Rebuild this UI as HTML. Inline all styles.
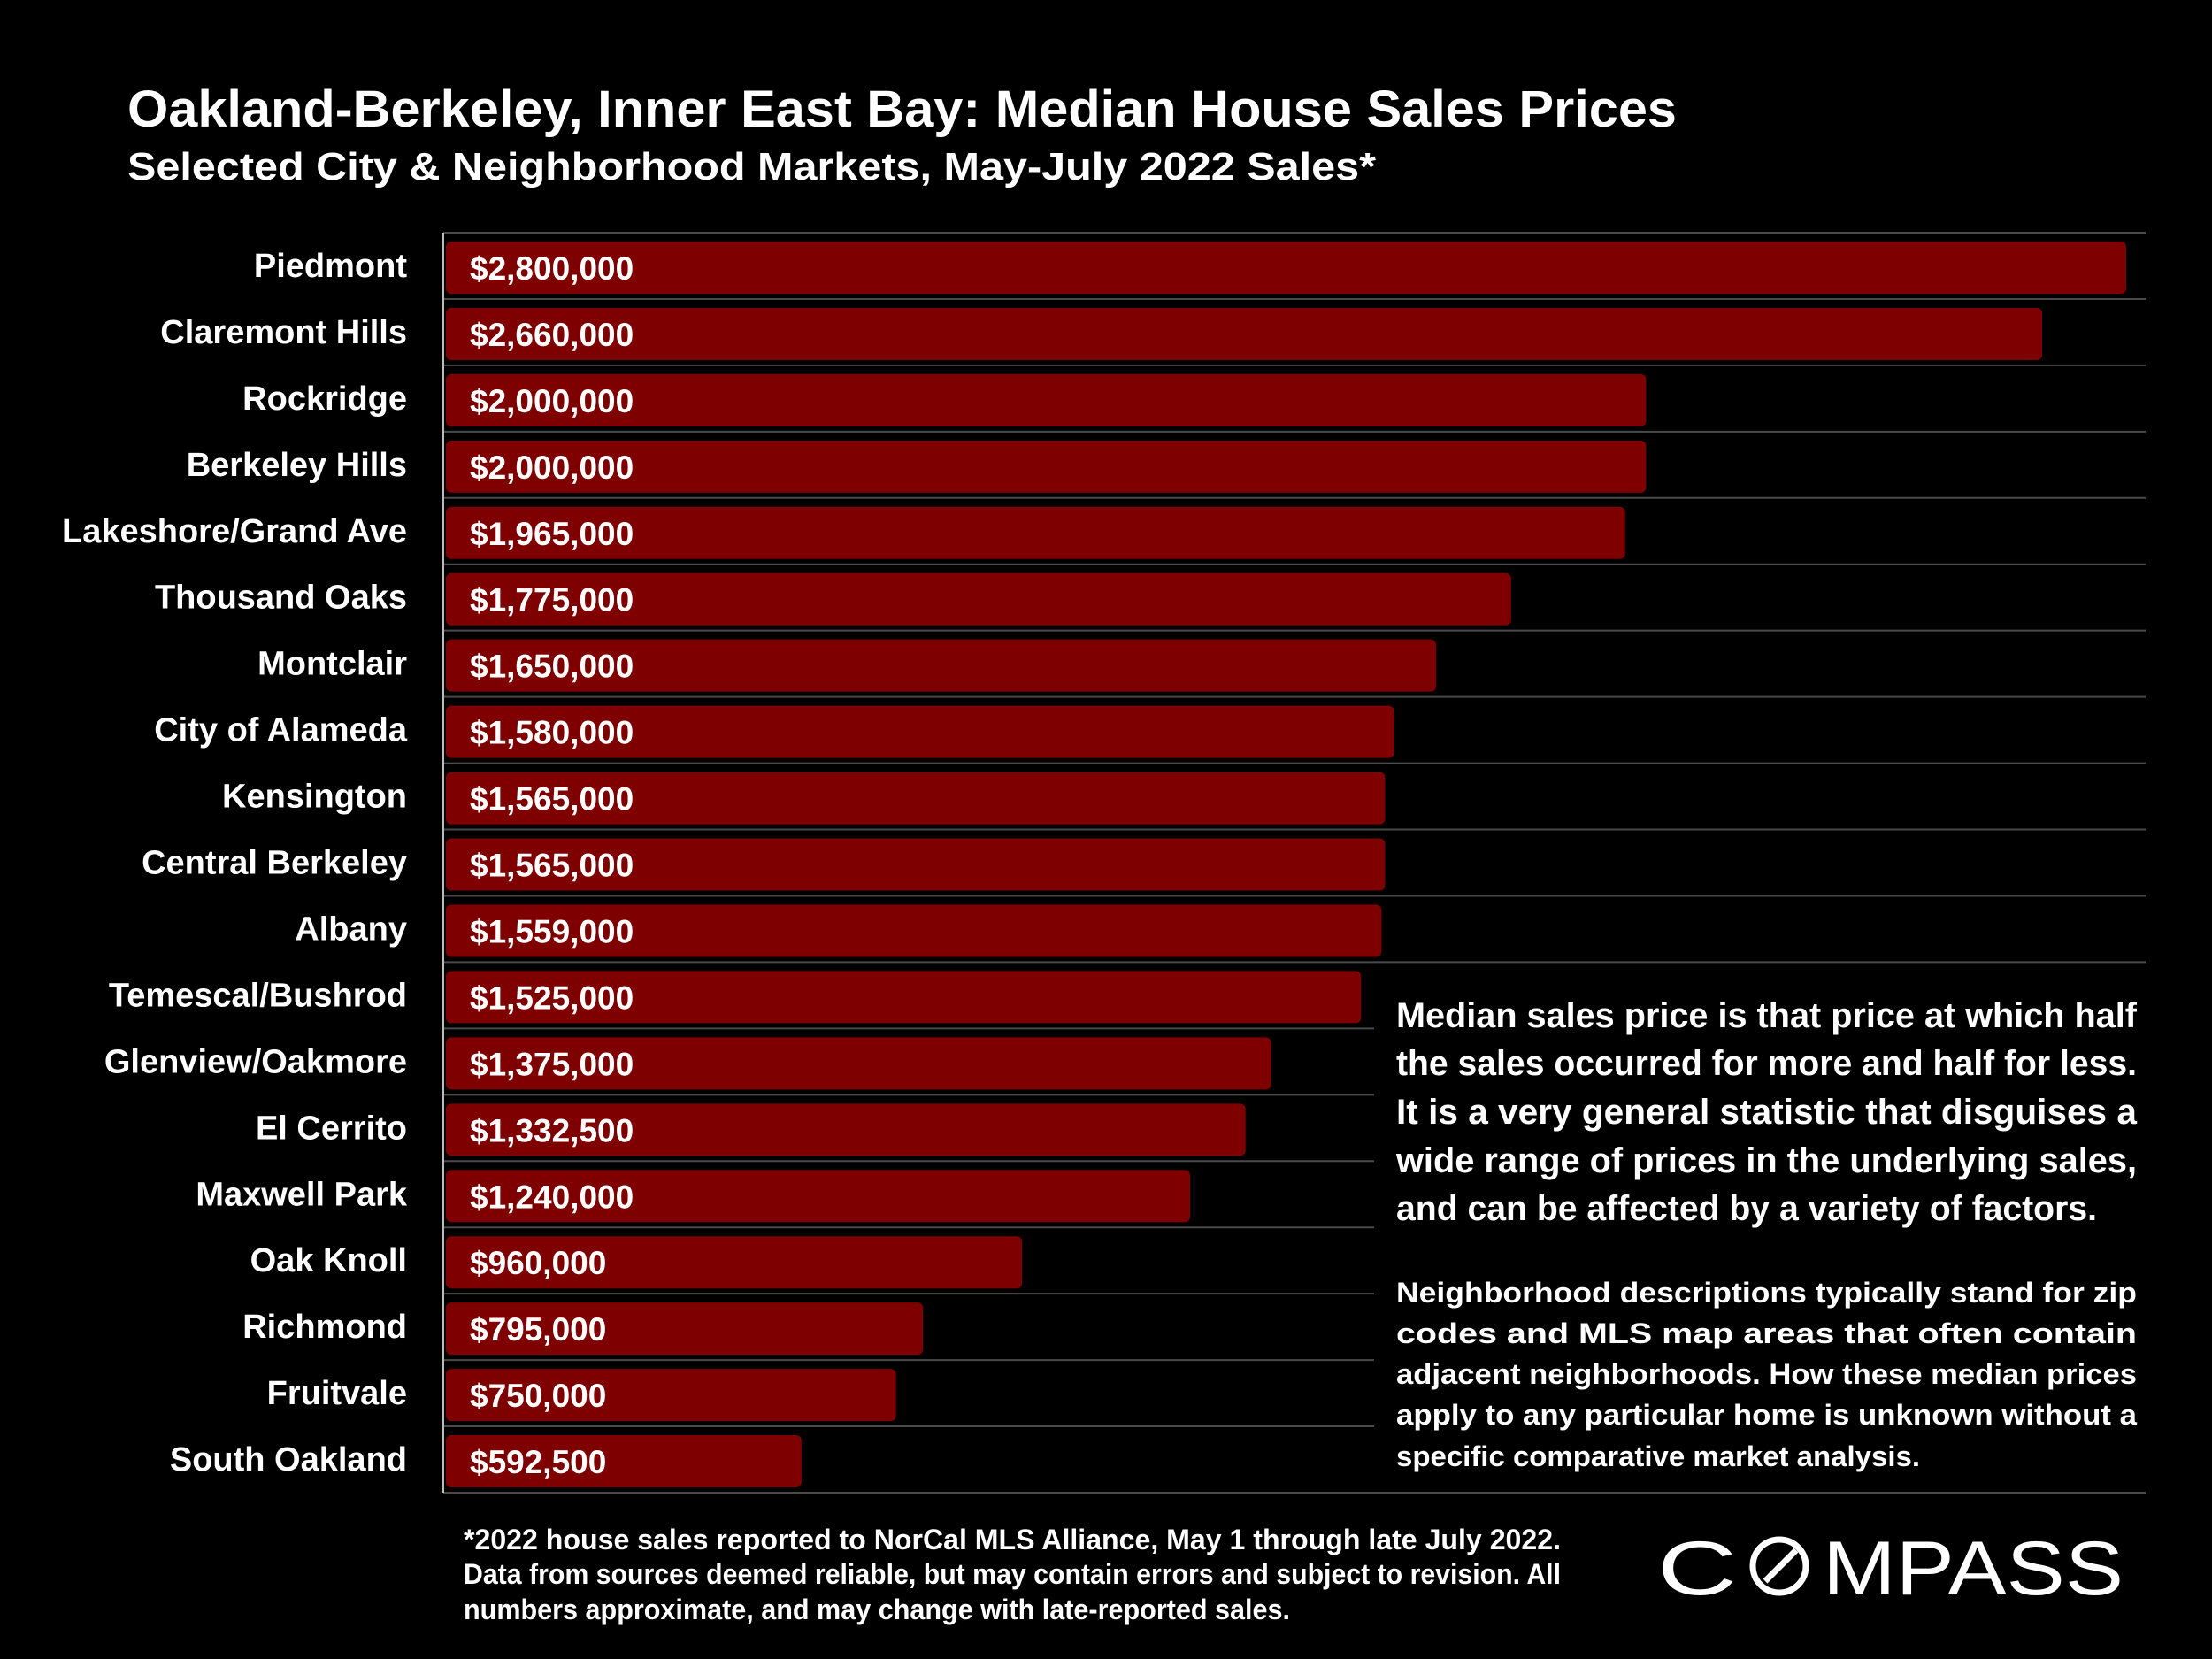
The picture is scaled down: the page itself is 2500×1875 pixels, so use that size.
<!DOCTYPE html>
<html><head><meta charset="utf-8"><style>
html,body{margin:0;padding:0;background:#000;}
svg{display:block;}
text{font-family:"Liberation Sans",sans-serif;fill:#fff;font-weight:bold;}
</style></head><body>
<svg id="chart" width="2500" height="1875" viewBox="0 0 2500 1875" xmlns="http://www.w3.org/2000/svg">
<rect width="2500" height="1875" fill="#000"/>
<text x="144" y="143" font-size="58" textLength="1751" lengthAdjust="spacingAndGlyphs">Oakland-Berkeley, Inner East Bay: Median House Sales Prices</text>
<text x="144" y="203" font-size="44" textLength="1411" lengthAdjust="spacingAndGlyphs">Selected City &amp; Neighborhood Markets, May-July 2022 Sales*</text>
<g id="grid"></g>
<g id="bars"></g>
<line x1="501" y1="263" x2="501" y2="1687" stroke="#bbb" stroke-width="2"/>
<g font-size="40">
<text x="1578" y="1161" textLength="837" lengthAdjust="spacingAndGlyphs">Median sales price is that price at which half</text>
<text x="1578" y="1215" textLength="837" lengthAdjust="spacingAndGlyphs">the sales occurred for more and half for less.</text>
<text x="1578" y="1270" textLength="837" lengthAdjust="spacingAndGlyphs">It is a very general statistic that disguises a</text>
<text x="1578" y="1325" textLength="837" lengthAdjust="spacingAndGlyphs">wide range of prices in the underlying sales,</text>
<text x="1578" y="1379" textLength="792" lengthAdjust="spacingAndGlyphs">and can be affected by a variety of factors.</text>
</g>
<g font-size="32">
<text x="1578" y="1472" textLength="837" lengthAdjust="spacingAndGlyphs">Neighborhood descriptions typically stand for zip</text>
<text x="1578" y="1518" textLength="837" lengthAdjust="spacingAndGlyphs">codes and MLS map areas that often contain</text>
<text x="1578" y="1564" textLength="837" lengthAdjust="spacingAndGlyphs">adjacent neighborhoods. How these median prices</text>
<text x="1578" y="1610" textLength="837" lengthAdjust="spacingAndGlyphs">apply to any particular home is unknown without a</text>
<text x="1578" y="1657" textLength="592" lengthAdjust="spacingAndGlyphs">specific comparative market analysis.</text>
</g>
<g font-size="32">
<text x="524" y="1751" textLength="1240" lengthAdjust="spacingAndGlyphs">*2022 house sales reported to NorCal MLS Alliance, May 1 through late July 2022.</text>
<text x="524" y="1790" textLength="1240" lengthAdjust="spacingAndGlyphs">Data from sources deemed reliable, but may contain errors and subject to revision. All</text>
<text x="524" y="1830" textLength="934" lengthAdjust="spacingAndGlyphs">numbers approximate, and may change with late-reported sales.</text>
</g>
<g>
<text x="1873" y="1802" font-size="86" style="font-weight:normal" textLength="90" lengthAdjust="spacingAndGlyphs">C</text>
<circle cx="2011" cy="1770" r="30" fill="none" stroke="#fff" stroke-width="7"/>
<line x1="1995" y1="1787" x2="2030" y2="1752" stroke="#fff" stroke-width="7"/>
<text x="2060" y="1802" font-size="86" style="font-weight:normal" textLength="340" lengthAdjust="spacingAndGlyphs">MPASS</text>
</g>
</svg>
<script>
const categories = ["Piedmont","Claremont Hills","Rockridge","Berkeley Hills","Lakeshore/Grand Ave","Thousand Oaks","Montclair","City of Alameda","Kensington","Central Berkeley","Albany","Temescal/Bushrod","Glenview/Oakmore","El Cerrito","Maxwell Park","Oak Knoll","Richmond","Fruitvale","South Oakland"];
const values = [2800000,2660000,2000000,2000000,1965000,1775000,1650000,1580000,1565000,1565000,1559000,1525000,1375000,1332500,1240000,960000,795000,750000,592500];
const valueLabels = ["$2,800,000","$2,660,000","$2,000,000","$2,000,000","$1,965,000","$1,775,000","$1,650,000","$1,580,000","$1,565,000","$1,565,000","$1,559,000","$1,525,000","$1,375,000","$1,332,500","$1,240,000","$960,000","$795,000","$750,000","$592,500"];

const NS = "http://www.w3.org/2000/svg";
const x0 = 504, pxPerDollar = 1899 / 2800000, top0 = 263, rowH = (1687 - 263) / categories.length;
const xScale = v => x0 + v * pxPerDollar;
const yScale = i => top0 + i * rowH;
const grid = document.getElementById('grid');
const bars = document.getElementById('bars');
for (let i = 0; i <= categories.length; i++) {
  const l = document.createElementNS(NS, 'line');
  const short = i >= 12 && i <= 18;
  l.setAttribute('x1', 501); l.setAttribute('x2', short ? 1553 : 2425);
  l.setAttribute('y1', yScale(i)); l.setAttribute('y2', yScale(i));
  l.setAttribute('stroke', '#4a4a4a'); l.setAttribute('stroke-width', '2');
  
  
  grid.appendChild(l);
}
categories.forEach((c, i) => {
  const y = yScale(i);
  const r = document.createElementNS(NS, 'rect');
  r.setAttribute('x', x0); r.setAttribute('y', y + 10);
  r.setAttribute('width', xScale(values[i]) - x0); r.setAttribute('height', 59);
  r.setAttribute('rx', 6); r.setAttribute('fill', '#7f0000');
  
  
  bars.appendChild(r);
  const v = document.createElementNS(NS, 'text');
  v.setAttribute('x', 531); v.setAttribute('y', y + 53); v.setAttribute('font-size', '37');
  v.textContent = valueLabels[i];
  
  
  bars.appendChild(v);
  const t = document.createElementNS(NS, 'text');
  t.setAttribute('x', 460); t.setAttribute('y', y + 50); t.setAttribute('font-size', '38');
  t.setAttribute('text-anchor', 'end');
  t.textContent = c;
  
  
  bars.appendChild(t);
});
</script>
</body></html>
